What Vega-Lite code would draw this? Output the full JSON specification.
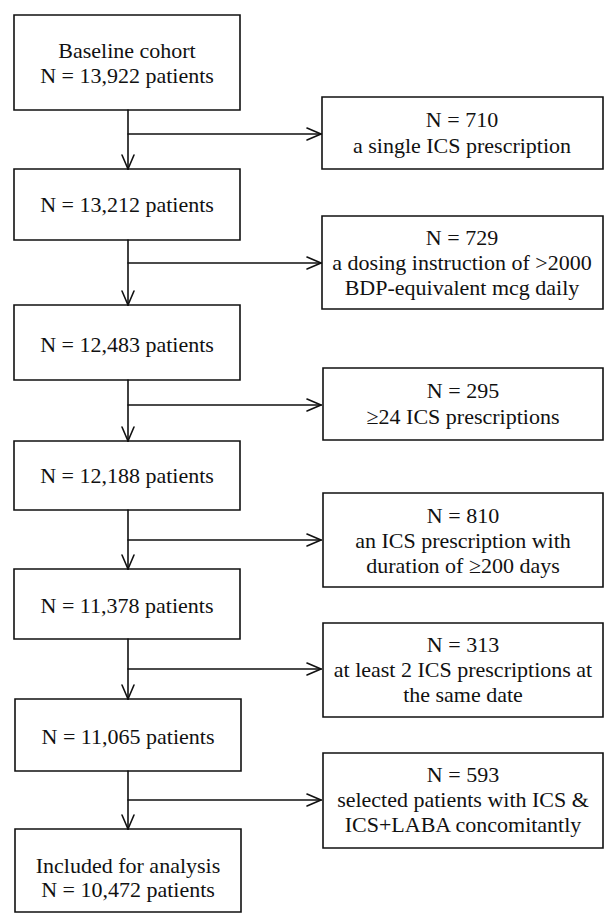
{
  "$schema": "https://vega.github.io/schema/vega-lite/v6.json",
  "width": 605,
  "height": 922,
  "autosize": {"type": "fit", "contains": "padding"},
  "padding": 0,
  "background": "white",
  "config": {"view": {"stroke": null}},
  "datasets": {
    "boxes": [
      {"id": "L1", "x1": 14, "x2": 240, "y1": 15, "y2": 110},
      {"id": "L2", "x1": 14, "x2": 240, "y1": 169, "y2": 240},
      {"id": "L3", "x1": 14, "x2": 240, "y1": 305, "y2": 380},
      {"id": "L4", "x1": 14, "x2": 240, "y1": 441, "y2": 510},
      {"id": "L5", "x1": 14, "x2": 240, "y1": 569, "y2": 639},
      {"id": "L6", "x1": 15, "x2": 241, "y1": 699, "y2": 771},
      {"id": "L7", "x1": 15, "x2": 241, "y1": 829, "y2": 912},
      {"id": "R1", "x1": 322, "x2": 603, "y1": 97, "y2": 169},
      {"id": "R2", "x1": 322, "x2": 603, "y1": 216, "y2": 309},
      {"id": "R3", "x1": 323, "x2": 603, "y1": 368, "y2": 440},
      {"id": "R4", "x1": 323, "x2": 603, "y1": 493, "y2": 587},
      {"id": "R5", "x1": 323, "x2": 603, "y1": 623, "y2": 717},
      {"id": "R6", "x1": 323, "x2": 603, "y1": 753, "y2": 848}
    ],
    "segments": [
      {"x": 128, "y": 110, "x2": 128, "y2": 169},
      {"x": 128, "y": 240, "x2": 128, "y2": 305},
      {"x": 128, "y": 380, "x2": 128, "y2": 441},
      {"x": 128, "y": 510, "x2": 128, "y2": 569},
      {"x": 128, "y": 639, "x2": 128, "y2": 699},
      {"x": 128, "y": 771, "x2": 128, "y2": 829},
      {"x": 128, "y": 134, "x2": 321, "y2": 134},
      {"x": 128, "y": 263, "x2": 321, "y2": 263},
      {"x": 128, "y": 405, "x2": 321, "y2": 405},
      {"x": 128, "y": 540, "x2": 321, "y2": 540},
      {"x": 128, "y": 669, "x2": 321, "y2": 669},
      {"x": 128, "y": 800, "x2": 321, "y2": 800},
      {"x": 122, "y": 155, "x2": 128, "y2": 169},
      {"x": 134, "y": 155, "x2": 128, "y2": 169},
      {"x": 122, "y": 291, "x2": 128, "y2": 305},
      {"x": 134, "y": 291, "x2": 128, "y2": 305},
      {"x": 122, "y": 427, "x2": 128, "y2": 441},
      {"x": 134, "y": 427, "x2": 128, "y2": 441},
      {"x": 122, "y": 555, "x2": 128, "y2": 569},
      {"x": 134, "y": 555, "x2": 128, "y2": 569},
      {"x": 122, "y": 685, "x2": 128, "y2": 699},
      {"x": 134, "y": 685, "x2": 128, "y2": 699},
      {"x": 122, "y": 815, "x2": 128, "y2": 829},
      {"x": 134, "y": 815, "x2": 128, "y2": 829},
      {"x": 307, "y": 128, "x2": 321, "y2": 134},
      {"x": 307, "y": 140, "x2": 321, "y2": 134},
      {"x": 307, "y": 257, "x2": 321, "y2": 263},
      {"x": 307, "y": 269, "x2": 321, "y2": 263},
      {"x": 307, "y": 399, "x2": 321, "y2": 405},
      {"x": 307, "y": 411, "x2": 321, "y2": 405},
      {"x": 307, "y": 534, "x2": 321, "y2": 540},
      {"x": 307, "y": 546, "x2": 321, "y2": 540},
      {"x": 307, "y": 663, "x2": 321, "y2": 669},
      {"x": 307, "y": 675, "x2": 321, "y2": 669},
      {"x": 307, "y": 794, "x2": 321, "y2": 800},
      {"x": 307, "y": 806, "x2": 321, "y2": 800}
    ],
    "labels": [
      {"x": 127, "y": 58, "text": "Baseline  cohort"},
      {"x": 127, "y": 83, "text": "N = 13,922 patients"},
      {"x": 127, "y": 212, "text": "N = 13,212 patients"},
      {"x": 127, "y": 352, "text": "N = 12,483 patients"},
      {"x": 127, "y": 483, "text": "N = 12,188 patients"},
      {"x": 127, "y": 613, "text": "N = 11,378 patients"},
      {"x": 128, "y": 744, "text": "N = 11,065 patients"},
      {"x": 128, "y": 873, "text": "Included for analysis"},
      {"x": 128, "y": 897, "text": "N = 10,472 patients"},
      {"x": 462, "y": 127, "text": "N = 710"},
      {"x": 462, "y": 153, "text": "a single ICS prescription"},
      {"x": 462, "y": 245, "text": "N = 729"},
      {"x": 462, "y": 270, "text": "a dosing instruction of >2000"},
      {"x": 462, "y": 295, "text": "BDP-equivalent  mcg daily"},
      {"x": 463, "y": 398, "text": "N = 295"},
      {"x": 463, "y": 424, "text": "≥24 ICS prescriptions"},
      {"x": 463, "y": 523, "text": "N = 810"},
      {"x": 463, "y": 548, "text": "an ICS prescription with"},
      {"x": 463, "y": 573, "text": "duration of ≥200 days"},
      {"x": 463, "y": 652, "text": "N = 313"},
      {"x": 463, "y": 677, "text": "at least 2 ICS prescriptions at"},
      {"x": 463, "y": 702, "text": "the same date"},
      {"x": 463, "y": 782, "text": "N = 593"},
      {"x": 463, "y": 807, "text": "selected patients  with ICS &"},
      {"x": 463, "y": 832, "text": "ICS+LABA  concomitantly"}
    ]
  },
  "layer": [
    {
      "data": {"name": "boxes"},
      "mark": {"type": "rect", "fill": "white", "stroke": "#111", "strokeWidth": 1.6},
      "encoding": {
        "x": {"field": "x1", "type": "quantitative", "scale": {"domain": [0, 605], "nice": false, "zero": false}, "axis": null},
        "x2": {"field": "x2"},
        "y": {"field": "y1", "type": "quantitative", "scale": {"domain": [0, 922], "nice": false, "zero": false, "reverse": true}, "axis": null},
        "y2": {"field": "y2"}
      }
    },
    {
      "data": {"name": "segments"},
      "mark": {"type": "rule", "stroke": "#111", "strokeWidth": 1.6, "strokeCap": "round"},
      "encoding": {
        "x": {"field": "x", "type": "quantitative", "scale": {"domain": [0, 605], "nice": false, "zero": false}, "axis": null},
        "x2": {"field": "x2"},
        "y": {"field": "y", "type": "quantitative", "scale": {"domain": [0, 922], "nice": false, "zero": false, "reverse": true}, "axis": null},
        "y2": {"field": "y2"}
      }
    },
    {
      "data": {"name": "labels"},
      "mark": {"type": "text", "font": "'Liberation Serif', 'Times New Roman', 'DejaVu Serif', serif", "fontSize": 22, "align": "center", "baseline": "alphabetic", "color": "#111"},
      "encoding": {
        "x": {"field": "x", "type": "quantitative", "scale": {"domain": [0, 605], "nice": false, "zero": false}, "axis": null},
        "y": {"field": "y", "type": "quantitative", "scale": {"domain": [0, 922], "nice": false, "zero": false, "reverse": true}, "axis": null},
        "text": {"field": "text", "type": "nominal"}
      }
    }
  ]
}
